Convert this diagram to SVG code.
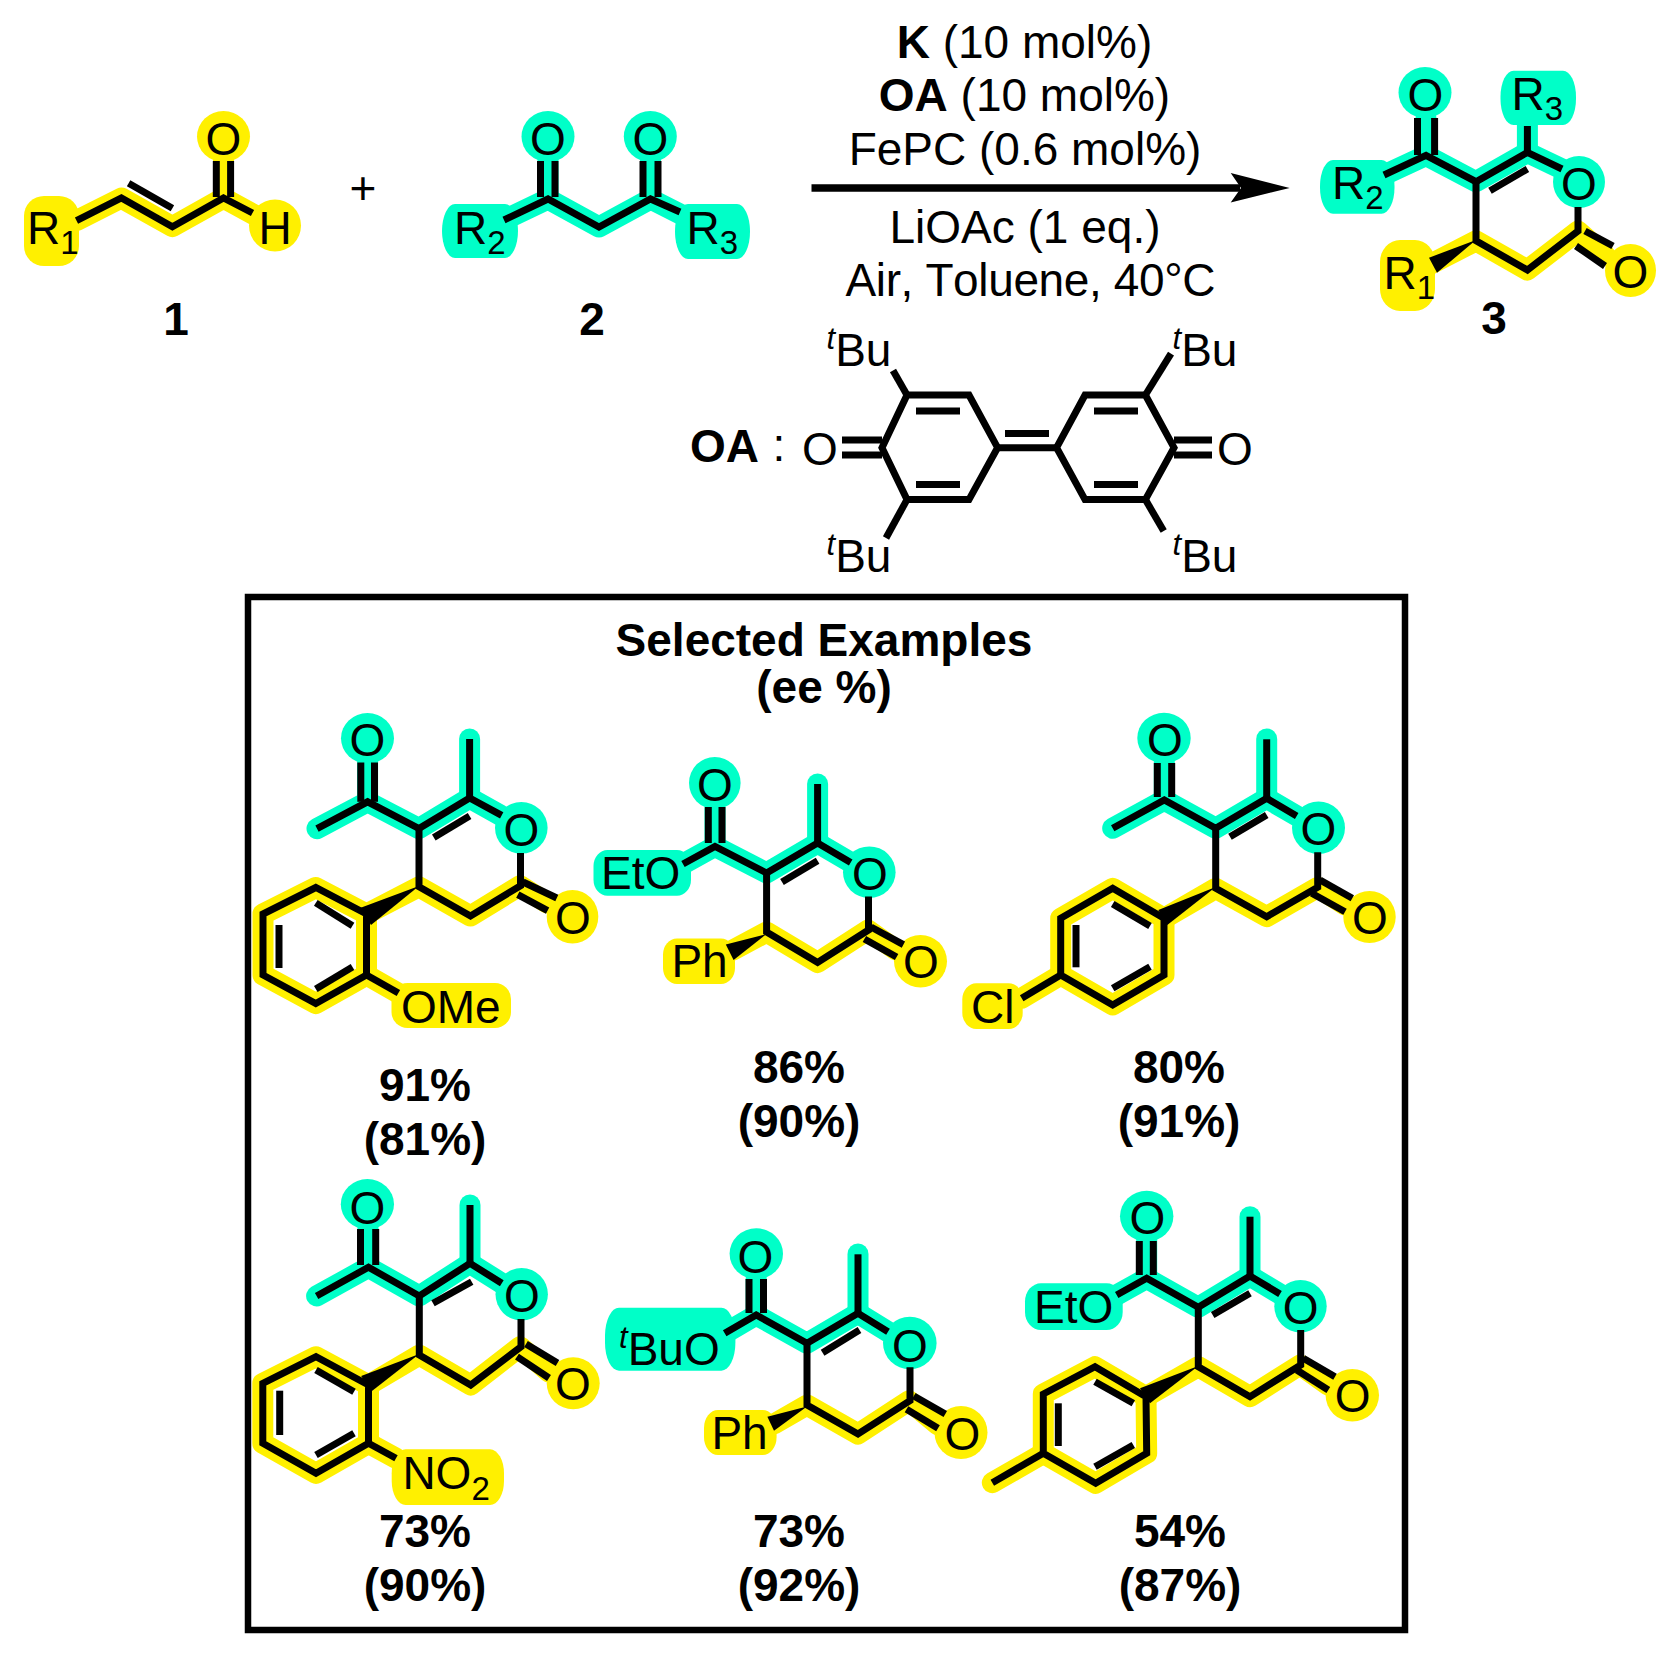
<svg xmlns="http://www.w3.org/2000/svg" width="1678" height="1661" viewBox="0 0 1678 1661">
<style>
text{font-family:"Liberation Sans",Arial,sans-serif;font-size:46px;fill:#000;font-kerning:none;transform:translateY(1px)}
.m{text-anchor:middle}
.bd{font-weight:700}
.s{font-size:33px}
.i{font-size:31px;font-style:italic}
.b{fill:none;stroke:#000;stroke-width:7;stroke-linejoin:miter;stroke-linecap:butt}
.ht{fill:none;stroke:#00FFC8;stroke-width:21;stroke-linecap:round;stroke-linejoin:round}
.hy{fill:none;stroke:#FFF000;stroke-width:21;stroke-linecap:round;stroke-linejoin:round}
.ft{fill:#00FFC8}
.fy{fill:#FFF000}
</style>
<rect width="1678" height="1661" fill="#fff"/>

<g id="compound-1">
<polyline class="hy" points="76.5,220.7 121.4,198 172.4,226.7 223.5,198 262,219"/>
<line class="hy" x1="223.5" y1="198" x2="223.5" y2="160"/>
<ellipse class="fy" cx="223.5" cy="136.5" rx="26.5" ry="25.5"/>
<ellipse class="fy" cx="275" cy="225.5" rx="26" ry="26"/>
<rect class="fy" x="24" y="196" width="55" height="70" rx="20" ry="20"/>
<polyline class="b" points="76.5,220.7 121.4,198 172.4,226.7 223.5,198 252.5,213"/>
<line class="b" x1="128.6" y1="183.3" x2="172.4" y2="208.3"/>
<line class="b" x1="216.3" y1="161" x2="216.3" y2="197"/>
<line class="b" x1="230.6" y1="161" x2="230.6" y2="197"/>
<text class="m" x="223.5" y="154">O</text>
<text class="m" x="275" y="243">H</text>
<text x="27" y="243">R<tspan class="s" dy="10">1</tspan></text>
<text class="m bd" x="176" y="334">1</text>
</g>

<text id="plus" class="m" x="363" y="203">+</text>

<g id="compound-2">
<polyline class="ht" points="504,220 548,199 599,227 650.5,199 690,219"/>
<line class="ht" x1="548" y1="199" x2="548" y2="160"/>
<line class="ht" x1="650.5" y1="199" x2="650.5" y2="160"/>
<ellipse class="ft" cx="548" cy="136.5" rx="26.5" ry="25.5"/>
<ellipse class="ft" cx="650.3" cy="136.5" rx="26.5" ry="25.5"/>
<rect class="ft" x="442" y="204" width="76" height="54" rx="13" ry="27"/>
<rect class="ft" x="675" y="204" width="75" height="55" rx="13" ry="27"/>
<polyline class="b" points="504,220 548,199 599,227 650.5,199 680,212"/>
<line class="b" x1="540.5" y1="161" x2="540.5" y2="197"/>
<line class="b" x1="555" y1="161" x2="555" y2="197"/>
<line class="b" x1="643" y1="161" x2="643" y2="197"/>
<line class="b" x1="658" y1="161" x2="658" y2="197"/>
<text class="m" x="548" y="154">O</text>
<text class="m" x="650.3" y="154">O</text>
<text x="454" y="243">R<tspan class="s" dy="10">2</tspan></text>
<text x="686.5" y="243">R<tspan class="s" dy="10">3</tspan></text>
<text class="m bd" x="592" y="334">2</text>
</g>

<g id="conditions">
<text class="m" x="1024.500" y="57"><tspan class="bd">K</tspan> (10 mol%)</text>
<text class="m" x="1024.500" y="110"><tspan class="bd">OA</tspan> (10 mol%)</text>
<text class="m" x="1025" y="163.500">FePC (0.6 mol%)</text>
<text class="m" x="1025" y="241.500">LiOAc (1 eq.)</text>
<text class="m" x="1030.500" y="295" textLength="370">Air, Toluene, 40°C</text>
</g>

<g id="connectors">
<line x1="811.500" y1="188" x2="1240" y2="188" stroke="#000" stroke-width="7.500"/>
<polygon points="1289.700,188 1230.700,173 1241,188 1230.700,202.400" fill="#000"/>
</g>

<g id="compound-3">
<polyline class="ht" points="1384,175 1426,155.400 1476,181.700 1527.400,152.400 1562,169"/>
<line class="ht" x1="1426" y1="155" x2="1426" y2="118"/>
<line class="ht" x1="1527.400" y1="152" x2="1527.400" y2="120"/>
<ellipse class="ft" cx="1425" cy="92.500" rx="26.500" ry="25.500"/>
<ellipse class="ft" cx="1579" cy="182" rx="26" ry="26"/>
<rect class="ft" x="1500.500" y="70.700" width="75.500" height="54.300" rx="13" ry="26"/>
<rect class="ft" x="1320" y="160" width="74.500" height="53.700" rx="13" ry="26"/>
<polyline class="hy" points="1429,265 1476,240.800 1527.400,270 1578,231 1605,255"/>
<ellipse class="fy" cx="1630.500" cy="270.500" rx="25.500" ry="26.500"/>
<rect class="fy" x="1380" y="240" width="55" height="71" rx="20" ry="22"/>
<polyline class="b" points="1384,175 1426,155.400 1476,181.700 1527.400,152.400 1562,169"/>
<line class="b" x1="1527.400" y1="152.400" x2="1527.400" y2="126"/>
<line class="b" x1="1417.500" y1="118" x2="1417.500" y2="155"/>
<line class="b" x1="1434.600" y1="118" x2="1434.600" y2="155"/>
<line class="b" x1="1490" y1="190.700" x2="1527.400" y2="169"/>
<polyline class="b" points="1476,181.700 1476,240.800 1527.400,270 1578,231 1578,207"/>
<line class="b" x1="1585" y1="231" x2="1613" y2="246"/>
<line class="b" x1="1576" y1="246" x2="1605" y2="266"/>
<polygon points="1476,240 1429,257.700 1437,272.700" fill="#000"/>
<text class="m" x="1425.500" y="110">O</text>
<text class="m" x="1579" y="199">O</text>
<text class="m" x="1630.500" y="287">O</text>
<text x="1511.500" y="109">R<tspan class="s" dy="10">3</tspan></text>
<text x="1332" y="197.500">R<tspan class="s" dy="10">2</tspan></text>
<text x="1383.500" y="288">R<tspan class="s" dy="10">1</tspan></text>
<text class="m bd" x="1494" y="333">3</text>
</g>

<g id="oxidant-OA">
<text class="bd" x="690" y="461">OA</text>
<text class="m" x="779" y="460">:</text>
<polygon class="b" points="882,447.700 907,395 969,395 997.600,447.700 969,499.600 907,499.600"/>
<polygon class="b" points="1056.600,447.700 1085,395 1145.400,395 1174,447.700 1145.400,499.600 1085,499.600"/>
<line class="b" x1="997" y1="447.700" x2="1057" y2="447.700"/>
<line class="b" x1="1005" y1="433.400" x2="1049" y2="433.400"/>
<line class="b" x1="916" y1="411" x2="960" y2="411"/>
<line class="b" x1="916" y1="484.600" x2="960" y2="484.600"/>
<line class="b" x1="1094" y1="411" x2="1138" y2="411"/>
<line class="b" x1="1094" y1="484.600" x2="1138" y2="484.600"/>
<line class="b" x1="842" y1="440" x2="882" y2="440"/>
<line class="b" x1="842" y1="455" x2="882" y2="455"/>
<line class="b" x1="1174" y1="440" x2="1212" y2="440"/>
<line class="b" x1="1174" y1="455" x2="1212" y2="455"/>
<line class="b" x1="907" y1="395" x2="893" y2="370.600"/>
<line class="b" x1="1145.400" y1="395" x2="1171" y2="353.600"/>
<line class="b" x1="907" y1="499.600" x2="886" y2="538"/>
<line class="b" x1="1145.400" y1="499.600" x2="1163.700" y2="531"/>
<text class="m" x="820" y="464">O</text>
<text class="m" x="1235" y="464">O</text>
<text x="826.500" y="348"><tspan class="i">t</tspan><tspan dy="17">Bu</tspan></text>
<text x="1172.500" y="348"><tspan class="i">t</tspan><tspan dy="17">Bu</tspan></text>
<text x="826.500" y="553.700"><tspan class="i">t</tspan><tspan dy="17">Bu</tspan></text>
<text x="1172.500" y="553.700"><tspan class="i">t</tspan><tspan dy="17">Bu</tspan></text>
</g>

<g id="selected-examples">
<rect x="248" y="597" width="1157" height="1033" fill="none" stroke="#000" stroke-width="6.500"/>
<text class="m bd" x="824" y="655">Selected Examples</text>
<text class="m bd" x="824" y="702">(ee %)</text>
</g>

<g id="example-a">
<polyline class="ht" points="317,828.600 367.600,801.800 419,828.600 469.600,798 500,815"/>
<line class="ht" x1="367.600" y1="801.800" x2="367.600" y2="762"/>
<line class="ht" x1="469.600" y1="798" x2="469.600" y2="739"/>
<ellipse class="ft" cx="367.500" cy="738.300" rx="26.500" ry="25.300"/>
<ellipse class="ft" cx="521.300" cy="827.800" rx="26.300" ry="25.800"/>
<polyline class="hy" points="366.500,914 419,886.800 470.500,916 520,885.700 547,903"/>
<polygon class="hy" points="366.500,914 315.800,887.500 263,914 263,975 315.800,1003.600 366.500,975"/>
<line class="hy" x1="366.500" y1="975" x2="398" y2="993"/>
<ellipse class="fy" cx="572.500" cy="916.800" rx="25.800" ry="26.800"/>
<rect class="fy" x="391.500" y="983" width="119.500" height="45" rx="16" ry="16"/>
<polyline class="b" points="317,828.600 367.600,801.800 419,828.600 469.600,798 501.700,815.400"/>
<line class="b" x1="360.800" y1="762.500" x2="360.800" y2="801.800"/>
<line class="b" x1="374.500" y1="762.500" x2="374.500" y2="801.800"/>
<line class="b" x1="433.800" y1="837.500" x2="469.600" y2="816"/>
<line class="b" x1="469.600" y1="798" x2="469.600" y2="739"/>
<polyline class="b" points="419,828.600 419,886.800 470.500,916 520.500,885.700 520.500,853"/>
<line class="b" x1="523" y1="882" x2="556.800" y2="898"/>
<line class="b" x1="517.800" y1="894.600" x2="547.600" y2="910.700"/>
<polygon points="419,886 360,908 371,925" fill="#000"/>
<polygon class="b" points="366.500,914 315.800,887.500 263,914 263,975 315.800,1003.600 366.500,975"/>
<line class="b" x1="315.800" y1="902.900" x2="352.500" y2="925.700"/>
<line class="b" x1="279" y1="925" x2="279" y2="968"/>
<line class="b" x1="315.800" y1="989" x2="352.500" y2="967"/>
<line class="b" x1="366.500" y1="975" x2="398.400" y2="993"/>
<text class="m" x="367.500" y="755">O</text>
<text class="m" x="521.500" y="845">O</text>
<text class="m" x="572.900" y="933">O</text>
<text x="401" y="1022">OMe</text>
<text class="m bd" x="425" y="1100">91%</text>
<text class="m bd" x="425" y="1154">(81%)</text>
</g>

<g id="example-b">
<polyline class="ht" points="683,864 715,846.400 766.600,873 817.600,843 850,862"/>
<line class="ht" x1="715" y1="846" x2="715" y2="808"/>
<line class="ht" x1="817.600" y1="843" x2="817.600" y2="784"/>
<ellipse class="ft" cx="714.800" cy="783" rx="25.800" ry="26"/>
<ellipse class="ft" cx="869.300" cy="872.200" rx="26.300" ry="25.800"/>
<rect class="ft" x="593.500" y="850" width="97.500" height="45.700" rx="14" ry="16"/>
<polyline class="hy" points="733,950 766.600,932 817.600,962.500 868,930 896,950"/>
<ellipse class="fy" cx="920.500" cy="961.200" rx="26.500" ry="26.300"/>
<rect class="fy" x="663" y="938.600" width="72" height="45.400" rx="14" ry="16"/>
<polyline class="b" points="683,864 715,846.400 766.600,873 817.600,843 850.700,862.500"/>
<line class="b" x1="708.300" y1="807" x2="708.300" y2="843"/>
<line class="b" x1="722" y1="807" x2="722" y2="843"/>
<line class="b" x1="782" y1="882" x2="817.600" y2="860.700"/>
<line class="b" x1="817.600" y1="843" x2="817.600" y2="784"/>
<polyline class="b" points="766.600,873 766.600,932 817.600,962.500 868.500,930 868.500,896.400"/>
<line class="b" x1="871" y1="927" x2="903.400" y2="944.600"/>
<line class="b" x1="864.400" y1="939" x2="896.600" y2="957"/>
<polygon points="766.600,934 725.800,944.600 733.600,960" fill="#000"/>
<text class="m" x="715" y="800">O</text>
<text class="m" x="870" y="889">O</text>
<text class="m" x="921" y="977">O</text>
<text x="601" y="888">EtO</text>
<text x="671.400" y="976">Ph</text>
<text class="m bd" x="799" y="1082">86%</text>
<text class="m bd" x="799" y="1136">(90%)</text>
</g>

<g id="example-c">
<polyline class="ht" points="1112.700,828.300 1164.300,800 1215.700,828.300 1266.700,798.300 1297,816"/>
<line class="ht" x1="1164.300" y1="800" x2="1164.300" y2="762"/>
<line class="ht" x1="1266.700" y1="798" x2="1266.700" y2="739"/>
<ellipse class="ft" cx="1164" cy="738" rx="26.700" ry="25.300"/>
<ellipse class="ft" cx="1318.500" cy="827.800" rx="26.500" ry="26.200"/>
<polyline class="hy" points="1164,918.300 1215.700,888.300 1266.700,916.700 1317.700,887.300 1345,905"/>
<polygon class="hy" points="1164,918.300 1112.700,888.300 1060.700,918.300 1060.700,975 1112.700,1005 1164,975"/>
<line class="hy" x1="1060.700" y1="975" x2="1021.700" y2="998.300"/>
<ellipse class="fy" cx="1369.500" cy="917" rx="26.200" ry="26"/>
<rect class="fy" x="962.300" y="983.300" width="60.400" height="45.700" rx="14" ry="16"/>
<polyline class="b" points="1112.700,828.300 1164.300,800 1215.700,828.300 1266.700,798.300 1296.700,816"/>
<line class="b" x1="1157.300" y1="763" x2="1157.300" y2="797"/>
<line class="b" x1="1171.700" y1="763" x2="1171.700" y2="797"/>
<line class="b" x1="1230" y1="836.700" x2="1266.700" y2="815"/>
<line class="b" x1="1266.700" y1="798.300" x2="1266.700" y2="739.300"/>
<polyline class="b" points="1215.700,828.300 1215.700,888.300 1266.700,916.700 1317.700,887.300 1317.700,852.300"/>
<line class="b" x1="1320" y1="880" x2="1352.300" y2="898.300"/>
<line class="b" x1="1311.700" y1="893.300" x2="1345" y2="911.700"/>
<polygon points="1215.700,887 1158.300,910 1167.300,925" fill="#000"/>
<polygon class="b" points="1164,918.300 1112.700,888.300 1060.700,918.300 1060.700,975 1112.700,1005 1164,975"/>
<line class="b" x1="1112.700" y1="904" x2="1150" y2="926"/>
<line class="b" x1="1076" y1="925" x2="1076" y2="967.300"/>
<line class="b" x1="1112.700" y1="988.300" x2="1150" y2="966.700"/>
<line class="b" x1="1060.700" y1="975" x2="1021.700" y2="998.300"/>
<text class="m" x="1165" y="755">O</text>
<text class="m" x="1318.300" y="844">O</text>
<text class="m" x="1370" y="933">O</text>
<text x="971" y="1021.500">Cl</text>
<text class="m bd" x="1179" y="1081.700">80%</text>
<text class="m bd" x="1179" y="1136">(91%)</text>
</g>

<g id="example-d">
<polyline class="ht" points="316.600,1296 368.500,1267.300 419.300,1296 470,1263.300 501.800,1283.300"/>
<line class="ht" x1="368" y1="1267" x2="368" y2="1228"/>
<line class="ht" x1="470" y1="1263" x2="470" y2="1205"/>
<ellipse class="ft" cx="367.400" cy="1204.200" rx="26.600" ry="25.200"/>
<ellipse class="ft" cx="521.700" cy="1294.300" rx="26.200" ry="26.300"/>
<polyline class="hy" points="368.500,1385 419.300,1355 470.700,1385 520,1346.700 549,1372"/>
<polygon class="hy" points="368.500,1385 316,1356.700 262.800,1383.300 262.800,1443.300 316,1473.300 368.500,1443.300"/>
<line class="hy" x1="368.500" y1="1443.300" x2="396" y2="1458.300"/>
<ellipse class="fy" cx="573.200" cy="1383.300" rx="26.500" ry="26"/>
<rect class="fy" x="391.700" y="1449.300" width="112.300" height="55.700" rx="14" ry="24"/>
<polyline class="b" points="316.600,1296 368.500,1267.300 419.300,1296 470,1263.300 501.800,1283.300"/>
<line class="b" x1="360.500" y1="1229" x2="360.500" y2="1265"/>
<line class="b" x1="375.700" y1="1229" x2="375.700" y2="1265"/>
<line class="b" x1="433" y1="1303.300" x2="471.700" y2="1281.700"/>
<line class="b" x1="470" y1="1263.300" x2="470" y2="1205"/>
<polyline class="b" points="419.300,1296 419.300,1355 470.700,1385 521,1346.700 521,1319"/>
<line class="b" x1="526" y1="1344" x2="557.500" y2="1363"/>
<line class="b" x1="517" y1="1356.700" x2="549" y2="1378"/>
<polygon points="419.300,1354 361.200,1376 371,1391.700" fill="#000"/>
<polygon class="b" points="368.500,1385 316,1356.700 262.800,1383.300 262.800,1443.300 316,1473.300 368.500,1443.300"/>
<line class="b" x1="316" y1="1370" x2="354" y2="1391.700"/>
<line class="b" x1="279.700" y1="1390.700" x2="279.700" y2="1435"/>
<line class="b" x1="316" y1="1455" x2="354" y2="1433.300"/>
<line class="b" x1="368.500" y1="1443.300" x2="396" y2="1458.300"/>
<text class="m" x="367.500" y="1223">O</text>
<text class="m" x="522" y="1311">O</text>
<text class="m" x="573" y="1399">O</text>
<text x="402.400" y="1488">NO<tspan class="s" dy="10.700">2</tspan></text>
<text class="m bd" x="425" y="1546">73%</text>
<text class="m bd" x="425" y="1600">(90%)</text>
</g>

<g id="example-e">
<polyline class="ht" points="724.700,1333.300 756.200,1315 807,1343.300 858,1313.300 888,1331.700"/>
<line class="ht" x1="756.200" y1="1315" x2="756.200" y2="1278"/>
<line class="ht" x1="858" y1="1313" x2="858" y2="1254"/>
<ellipse class="ft" cx="756.300" cy="1253.800" rx="26.700" ry="25.500"/>
<ellipse class="ft" cx="909.800" cy="1343" rx="26.800" ry="26.300"/>
<rect class="ft" x="605" y="1307.700" width="130.400" height="63" rx="14" ry="28"/>
<polyline class="hy" points="774,1424 807,1405 858,1434 909,1400.700 938,1425"/>
<ellipse class="fy" cx="961" cy="1432.500" rx="26.500" ry="26.500"/>
<rect class="fy" x="704" y="1410" width="72.600" height="45" rx="14" ry="18"/>
<polyline class="b" points="724.700,1333.300 756.200,1315 807,1343.300 858,1313.300 888,1331.700"/>
<line class="b" x1="749" y1="1279" x2="749" y2="1313"/>
<line class="b" x1="763.500" y1="1279" x2="763.500" y2="1313"/>
<line class="b" x1="822.600" y1="1352.700" x2="859.500" y2="1330"/>
<line class="b" x1="858" y1="1313.300" x2="858" y2="1254.300"/>
<polyline class="b" points="807,1343.300 807,1405 858,1434 910,1400.700 910,1367.300"/>
<line class="b" x1="913.800" y1="1396" x2="945.300" y2="1414"/>
<line class="b" x1="906.500" y1="1409.300" x2="938" y2="1428.300"/>
<polygon points="807,1406.500 767.400,1416.700 774,1430.700" fill="#000"/>
<text class="m" x="755.300" y="1271.500">O</text>
<text class="m" x="910" y="1360.500">O</text>
<text class="m" x="962.300" y="1449">O</text>
<text x="619" y="1347"><tspan class="i">t</tspan><tspan dy="17">BuO</tspan></text>
<text x="711.400" y="1448">Ph</text>
<text class="m bd" x="799" y="1546">73%</text>
<text class="m bd" x="799" y="1600">(92%)</text>
</g>

<g id="example-f">
<polyline class="ht" points="1116.700,1295 1146.700,1278.300 1198.300,1307.300 1250,1276 1280,1294"/>
<line class="ht" x1="1146.700" y1="1278" x2="1146.700" y2="1240"/>
<line class="ht" x1="1250" y1="1276" x2="1250" y2="1216.700"/>
<ellipse class="ft" cx="1146.700" cy="1216.200" rx="26.700" ry="25.500"/>
<ellipse class="ft" cx="1300.500" cy="1306.200" rx="26.200" ry="26.200"/>
<rect class="ft" x="1025" y="1283.300" width="97.700" height="46.700" rx="16" ry="18"/>
<polyline class="hy" points="1146,1396.700 1198.300,1366.700 1250,1396.700 1300,1365 1328,1385"/>
<polygon class="hy" points="1146,1396.700 1095,1366.700 1043.300,1394 1043.300,1453.300 1095.700,1483.300 1146.700,1453.300"/>
<line class="hy" x1="1043.300" y1="1453.300" x2="992.300" y2="1482.700"/>
<ellipse class="fy" cx="1352.300" cy="1395.300" rx="26.700" ry="26.300"/>
<polyline class="b" points="1116.700,1295 1146.700,1278.300 1198.300,1307.300 1250,1276 1280,1294"/>
<line class="b" x1="1139.300" y1="1241" x2="1139.300" y2="1275"/>
<line class="b" x1="1153.300" y1="1241" x2="1153.300" y2="1275"/>
<line class="b" x1="1212.700" y1="1315" x2="1250" y2="1293.300"/>
<line class="b" x1="1250" y1="1276" x2="1250" y2="1216.700"/>
<polyline class="b" points="1198.300,1307.300 1198.300,1366.700 1250,1396.700 1300.700,1365 1300.700,1330"/>
<line class="b" x1="1303.300" y1="1358.300" x2="1335" y2="1376.700"/>
<line class="b" x1="1296.700" y1="1370" x2="1328.300" y2="1390"/>
<polygon points="1198.300,1366 1140,1388.300 1150,1403.300" fill="#000"/>
<polygon class="b" points="1146,1396.700 1095,1366.700 1043.300,1394 1043.300,1453.300 1095.700,1483.300 1146.700,1453.300"/>
<line class="b" x1="1095" y1="1381.700" x2="1133.300" y2="1403.300"/>
<line class="b" x1="1058.300" y1="1403.300" x2="1058.300" y2="1446"/>
<line class="b" x1="1095" y1="1466.700" x2="1133.300" y2="1445"/>
<line class="b" x1="1043.300" y1="1453.300" x2="992.300" y2="1482.700"/>
<text class="m" x="1147.300" y="1233">O</text>
<text class="m" x="1300.700" y="1322.500">O</text>
<text class="m" x="1352.700" y="1411">O</text>
<text x="1034" y="1322.200">EtO</text>
<text class="m bd" x="1180" y="1546">54%</text>
<text class="m bd" x="1180" y="1600">(87%)</text>
</g>
</svg>
